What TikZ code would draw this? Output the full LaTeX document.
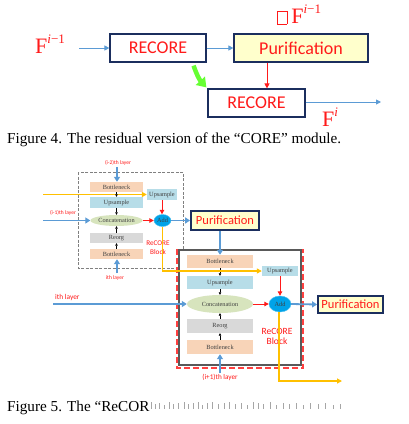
\documentclass[tikz,border=0pt]{standalone}
\usepackage{fontspec}
\setmainfont{Liberation Serif}
\newfontfamily\calib{Carlito}
\usetikzlibrary{arrows.meta,calc,shapes.geometric}
\newcommand\fsz[1]{\fontsize{#1}{#1}\selectfont}
\definecolor{redt}{HTML}{FF1A1A}
\definecolor{navy}{HTML}{1B2E5E}
\definecolor{yelf}{HTML}{FFFFCC}
\definecolor{blu}{HTML}{5B9BD5}
\definecolor{grn}{HTML}{66FF33}
\definecolor{peach}{HTML}{F8D4B8}
\definecolor{lblue}{HTML}{B7DDE8}
\definecolor{lgray}{HTML}{D9D9D9}
\definecolor{lgreen}{HTML}{D7E4BD}
\definecolor{addb}{HTML}{00A3E8}
\definecolor{ylw}{HTML}{FFC000}
\definecolor{dgray}{HTML}{595959}
\definecolor{rdash}{HTML}{FF4040}
\tikzset{
  rbox/.style={draw=navy, line width=1.2pt, fill=white, inner sep=0, text=redt, font=\calib\fsz{18}},
  pbox/.style={rbox, fill=yelf},
  pbox5/.style={draw=navy, line width=1.8pt, fill=yelf, inner sep=0, text=redt, font=\calib\fsz{12.5}},
  thinblue/.style={draw=blu, line width=0.9pt, -{Triangle[width=5pt,length=5pt]}},
  thinred/.style={draw=redt, line width=0.9pt, -{Triangle[width=5pt,length=5pt]}},
  bigtxt/.style={text=redt, font=\fsz{22}, inner sep=0},
  captxt/.style={font=\fsz{15.2}, inner sep=0, anchor=base west},
  sb/.style={inner sep=0, font=\fsz{6.3}, text=black!75},
  pch/.style={sb, fill=peach},
  lbl/.style={sb, fill=lblue},
  gry/.style={sb, fill=lgray},
  ell/.style={sb, ellipse, fill=lgreen},
  addn/.style={sb, ellipse, fill=addb, draw=addb!70!white, line width=0.4pt},
  barrow/.style={draw=blu, line width=1.8pt, -{Triangle[width=6pt,length=5pt]}},
  rarrow/.style={draw=redt, line width=1pt, -{Triangle[width=4.5pt,length=4.5pt]}},
  karrow/.style={draw=black, line width=0.5pt, -{Triangle[width=2.5pt,length=2.5pt]}},
  yline/.style={draw=ylw, line width=1.2pt},
  yarrow/.style={yline, -{Triangle[width=5pt,length=5pt]}},
  rlab/.style={text=redt, font=\calib, inner sep=0},
}
\begin{document}
\begin{tikzpicture}[x=1pt,y=-1pt]
\useasboundingbox[fill=white] (0,0) rectangle (409,424);

% ---------------- Figure 4 ----------------
\node[rbox, minimum width=96, minimum height=28] (rec1) at (158,48) {RECORE};
\node[pbox, minimum width=134, minimum height=28] (pur) at (301,48) {Purification};
\node[rbox, minimum width=97, minimum height=28] (rec2) at (256.5,103) {RECORE};

\node[bigtxt, anchor=base west] (fim1) at (35,53) {F\raisebox{.45em}{\fsz{13}\textit{i}−1}};
\node[bigtxt, anchor=base west] (dfim1) at (277,23.5) {{\setlength\fboxsep{0pt}\setlength\fboxrule{0.6pt}\fbox{\rule{0pt}{12pt}\hspace{9pt}}}\hspace{4pt}F\raisebox{.45em}{\fsz{13}\textit{i}−1}};
\node[bigtxt, anchor=base west] (fi) at (322,126) {F\raisebox{.45em}{\fsz{13}\textit{i}}};

\coordinate (in4) at (79,48);
\coordinate (out4) at (381,102);
\draw[thinblue] (in4) -- (rec1.west);
\draw[thinblue] (rec1.east) -- (pur.west);
\draw[thinred] ([xshift=-34pt]pur.south) -- ([xshift=-34pt]pur.south |- rec2.north);
\draw[thinblue] (rec2.east |- out4) -- (out4);
\draw[grn, line width=4.5pt, -{Triangle[width=12pt,length=9pt]}]
  ([xshift=-13pt,yshift=-3pt]rec1.south east) to[bend right=12] ([xshift=-1pt,yshift=1pt]rec2.north west);

\node[captxt] (cap4) at (7,143) {Figure 4. The residual version of the “CORE” module.};

% ---------------- Figure 5: upper block ----------------
\draw[draw=gray, line width=0.8pt, dash pattern=on 3pt off 1.5pt] (78,172) rectangle (183,268);

\node[pch, minimum width=53, minimum height=10] (ub1) at (116.5,187) {Bottleneck};
\node[lbl, minimum width=30, minimum height=11] (uu2) at (162,194.5) {Upsample};
\node[lbl, minimum width=53, minimum height=11] (uu1) at (116.5,202.5) {Upsample};
\node[ell, minimum width=52, minimum height=11] (uc) at (116.5,220.5) {Concatenation};
\node[addn, minimum width=17, minimum height=12] (ua) at (162.5,220.5) {Add};
\node[gry, minimum width=53, minimum height=10] (ur) at (116.5,238) {Reorg};
\node[pch, minimum width=53, minimum height=10] (ub2) at (116.5,254) {Bottleneck};
\node[pbox5, minimum width=68, minimum height=19] (upur) at (225,220.5) {Purification};

\node[rlab, font=\calib\fsz{5.5}] (lim2) at (118,163) {(i-2)th layer};
\node[rlab, font=\calib\fsz{5.5}] (lim1) at (63,213) {(i-1)th layer};
\node[rlab, font=\calib\fsz{5.5}] (li) at (115,278.5) {ith layer};
\node[rlab, font=\calib\fsz{7.2}, align=center] (urb) at (158,247.5) {ReCORE\\[1.5pt]Block};

\coordinate (u_top) at (117,167);
\coordinate (u_bot) at (117,273);
\coordinate (u_left) at (43,220.5);
\coordinate (u_yel) at (43,194.5);
\draw[barrow] (u_top) -- (u_top |- ub1.north);
\draw[barrow] (u_bot) -- (u_bot |- ub2.south);
\draw[barrow] (u_left) -- (uc.west);
\draw[yarrow] (u_yel) -- (uu2.west);
\draw[karrow] (ub1) -- (uu1);
\draw[karrow] (uu1) -- (uc);
\draw[karrow] (ur) -- (uc);
\draw[karrow] (ub2) -- (ur);
\draw[rarrow] (uu2.south) -- (uu2.south |- ua.north);
\draw[rarrow] (uc.east) -- (ua.west);
\draw[barrow] (ua.east) -- (upur.west);

% ---------------- Figure 5: lower block ----------------
\draw[draw=dgray, fill=white, line width=1.5pt] (179,250) rectangle (301,365);
\draw[draw=rdash, line width=1.3pt, dash pattern=on 6pt off 3pt] (177,249) -- (177,368) -- (303,368) -- (303,249);

\node[pch, minimum width=66, minimum height=13] (lb1) at (220,261.5) {Bottleneck};
\node[lbl, minimum width=36, minimum height=10] (lu2) at (280,271) {Upsample};
\node[lbl, minimum width=66, minimum height=13] (lu1) at (220,282.5) {Upsample};
\node[ell, minimum width=66, minimum height=18] (lc) at (220,304) {Concatenation};
\node[addn, minimum width=22, minimum height=16] (la) at (280,304) {Add};
\node[gry, minimum width=66, minimum height=14] (lr) at (220,326) {Reorg};
\node[pch, minimum width=66, minimum height=14] (lb2) at (220,347) {Bottleneck};
\node[pbox5, minimum width=65, minimum height=17] (lpur) at (350.5,304.5) {Purification};

\node[rlab, font=\calib\fsz{9.5}, align=center] (lrb) at (277,336.5) {ReCORE\\[1pt]Block};
\node[rlab, font=\calib\fsz{7.2}] (lip1) at (220,377) {(i+1)th layer};
\node[rlab, font=\calib\fsz{7.4}, anchor=west] (li2) at (55,298) {ith layer};

\coordinate (l_bot) at (220,373);
\coordinate (l_left) at (53,304);
\coordinate (y_end) at (342,381);

\draw[barrow] (lb1.north |- upur.south) -- (lb1.north);
\draw[barrow] (l_bot) -- (lb2.south);
\draw[barrow] (l_left) -- (lc.west);
\draw[karrow] (lb1) -- (lu1);
\draw[karrow] (lu1) -- (lc);
\draw[karrow] (lr) -- (lc);
\draw[karrow] (lb2) -- (lr);
\draw[rarrow] (lu2.south) -- (lu2.south |- la.north);
\draw[rarrow] (lc.east) -- (la.west);
\draw[barrow] (la.east) -- (lpur.west);
\draw[yarrow] (ua.south) |- (lu2.west);
\draw[yarrow] ([xshift=-1pt]la.south) |- (y_end);

% ---------------- caption 5 ----------------
\node[captxt] (cap5) at (7,411) {Figure 5. The “ReCOR};
\foreach \x/\h in {151/7,155/5,159/6,164/4,169/7,173/5,178/6,184/7,188/5,193/6,198/7,202/4,207/6,212/7,218/5,224/6,229/7,235/5,241/6,247/4,253/7,258/6,263/5,270/7,276/4,283/6,289/5,296/6,303/4,310/6,318/5,325/6,333/4,340/5}
  \fill[black!35] (\x,{409-\h}) rectangle ++(1.3,\h);
\end{tikzpicture}
\end{document}
